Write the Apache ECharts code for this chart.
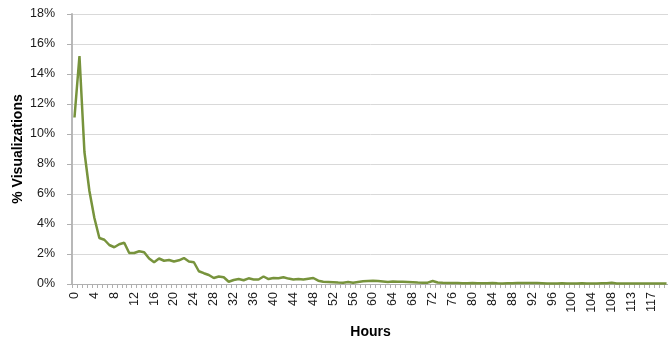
<!DOCTYPE html>
<html>
<head>
<meta charset="utf-8">
<script src="https://cdn.jsdelivr.net/npm/echarts@6/dist/echarts.min.js"></script>
<style>
  html, body { margin: 0; padding: 0; background: #ffffff; }
  #chart { width: 668px; height: 344px; }
</style>
</head>
<body>
<div id="chart"></div>
<script>
// Hours after publication (hour 112 has no entry)
const hours = [];
for (let h = 0; h <= 111; h++) hours.push(String(h));
for (let h = 113; h <= 120; h++) hours.push(String(h));

// Share of visualizations per hour, in percent
const visualizationsPct = [
  11.1, 15.2, 8.8, 6.2, 4.4, 3.07, 2.95, 2.6, 2.45, 2.65,
  2.75, 2.07, 2.07, 2.18, 2.12, 1.7, 1.45, 1.7, 1.55, 1.6,
  1.5, 1.58, 1.73, 1.5, 1.45, 0.85, 0.72, 0.6, 0.4, 0.5,
  0.45, 0.15, 0.27, 0.33, 0.25, 0.38, 0.3, 0.3, 0.5, 0.33,
  0.4, 0.38, 0.45, 0.36, 0.3, 0.33, 0.3, 0.35, 0.4, 0.22,
  0.15, 0.14, 0.12, 0.1, 0.09, 0.14, 0.09, 0.14, 0.18, 0.2,
  0.21, 0.2, 0.17, 0.14, 0.16, 0.15, 0.15, 0.14, 0.12, 0.1,
  0.09, 0.09, 0.2, 0.1, 0.08, 0.07, 0.06, 0.06, 0.05, 0.05,
  0.06, 0.05, 0.05, 0.05, 0.07, 0.05, 0.04, 0.05, 0.05, 0.06,
  0.07, 0.06, 0.07, 0.06, 0.05, 0.04, 0.04, 0.04, 0.05, 0.04,
  0.04, 0.04, 0.05, 0.04, 0.04, 0.04, 0.05, 0.05, 0.08, 0.04,
  0.04, 0.03, 0.04, 0.04, 0.03, 0.04, 0.03, 0.03, 0.04, 0.03
];

// Y axis ticks, in percent
const yMin = 0, yMax = 18, yStep = 2;

const FONT = "'Liberation Sans', Arial, sans-serif";
const chart = echarts.init(document.getElementById('chart'), null, { renderer: 'canvas' });

chart.setOption({
  animation: false,
  backgroundColor: '#ffffff',
  grid: { left: 72, top: 14, width: 597, height: 270, containLabel: false, outerBoundsMode: 'none' },
  xAxis: {
    type: 'category',
    data: hours,
    boundaryGap: true,
    name: 'Hours',
    nameLocation: 'middle',
    nameGap: 41,
    nameMoveOverlap: false,
    nameTextStyle: { fontFamily: FONT, fontSize: 14, fontWeight: 'bold', color: '#000000' },
    axisLine: { show: true, lineStyle: { color: '#b0b0b0', width: 1 } },
    axisTick: { show: true, interval: 0, length: 4, inside: false, alignWithLabel: false,
                lineStyle: { color: '#b0b0b0', width: 1 } },
    axisLabel: { interval: 3, rotate: 90, margin: 8, fontFamily: FONT, fontSize: 12.5, color: '#1a1a1a' },
    splitLine: { show: false }
  },
  yAxis: {
    type: 'value',
    min: yMin,
    max: yMax,
    interval: yStep,
    name: '% Visualizations',
    nameLocation: 'middle',
    nameGap: 47,
    nameMoveOverlap: false,
    nameRotate: 90,
    nameTextStyle: { fontFamily: FONT, fontSize: 14, fontWeight: 'bold', color: '#000000' },
    axisLine: { show: true, lineStyle: { color: '#b8b8b8', width: 2 } },
    axisTick: { show: true, length: 5, lineStyle: { color: '#b0b0b0', width: 1 } },
    axisLabel: { formatter: '{value}%', margin: 17, fontFamily: FONT, fontSize: 12.5, color: '#1a1a1a' },
    splitLine: { show: true, lineStyle: { color: '#d9d9d9', width: 1 } }
  },
  series: [{
    type: 'line',
    data: visualizationsPct,
    symbol: 'none',
    smooth: false,
    lineStyle: { color: '#77933c', width: 2.5 },
    z: 3
  }]
});
</script>
</body>
</html>
